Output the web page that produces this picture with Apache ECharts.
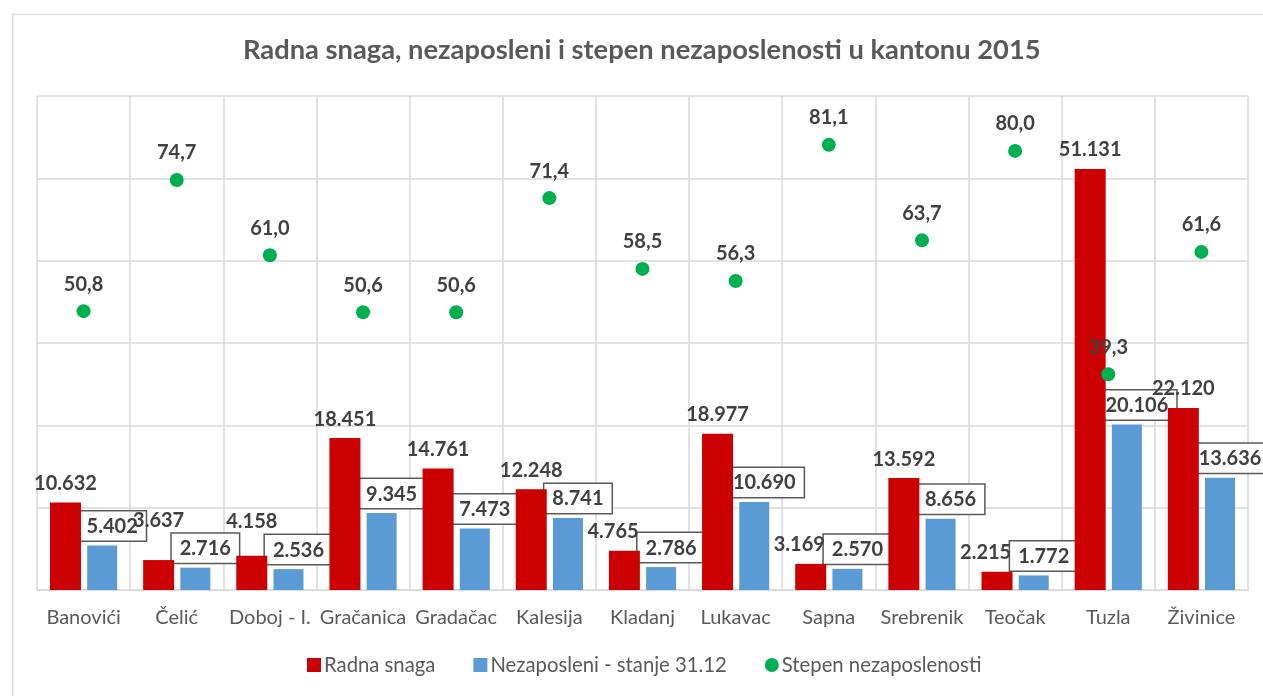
<!DOCTYPE html>
<html>
<head>
<meta charset="utf-8">
<script src="https://cdn.jsdelivr.net/npm/echarts@6/dist/echarts.min.js"></script>
<style>
html,body{margin:0;padding:0;background:#fff;}
#chart{width:1263px;height:696px;}
</style>
</head>
<body>
<div id="chart"></div>
<script>
const categories = ['Banovići','Čelić','Doboj - I.','Gračanica','Gradačac','Kalesija','Kladanj','Lukavac','Sapna','Srebrenik','Teočak','Tuzla','Živinice'];
const radnaSnaga = [10632, 3637, 4158, 18451, 14761, 12248, 4765, 18977, 3169, 13592, 2215, 51131, 22120];
const nezaposleni = [5402, 2716, 2536, 9345, 7473, 8741, 2786, 10690, 2570, 8656, 1772, 20106, 13636];
const stepen = [50.8, 74.7, 61.0, 50.6, 50.6, 71.4, 58.5, 56.3, 81.1, 63.7, 80.0, 39.3, 61.6];
const titleText = 'Radna snaga, nezaposleni i stepen nezaposlenosti u kantonu 2015';
const seriesNames = ['Radna snaga', 'Nezaposleni - stanje 31.12', 'Stepen nezaposlenosti'];

const FONT = 'Lato';
const LABEL_SIZE = 20;
const BOX_PAD = [5, 8, 4, 8];
const BOX_DIST = 5;
const BOX_DX = 10;
const RED_W = 31, BLUE_W = 30, BAR_GAP = 6;
const thousands = v => String(v).replace(/\B(?=(\d{3})+(?!\d))/g, '.');
const decimal = v => v.toFixed(1).replace('.', ',');

const measureCtx = document.createElement('canvas').getContext('2d');
function textWidth(t) {
  measureCtx.font = 'bold ' + LABEL_SIZE + 'px ' + FONT;
  return measureCtx.measureText(t).width;
}
function hits(a, b) {
  return a.x < b.x + b.width && a.x + a.width > b.x && a.y < b.y + b.height && a.y + a.height > b.y;
}

// Keep the red labels clear of the boxed blue labels (as in the original, where
// red labels were nudged left or up when they collided with the boxes).
const boxRects = [];
function redLabelLayout(params) {
  const i = params.dataIndex;
  const r = params.rect;          // red bar rect
  const lr = params.labelRect;    // red label rect
  if (!r || !lr || !radnaSnaga[i]) return {};
  const scale = r.height / radnaSnaga[i];
  const baseY = r.y + r.height;
  const blueTop = baseY - nezaposleni[i] * scale;
  const blueCenter = r.x + r.width + BAR_GAP + BLUE_W / 2;
  const bw = textWidth(thousands(nezaposleni[i])) + BOX_PAD[1] + BOX_PAD[3] + 1.5;
  const bh = LABEL_SIZE + BOX_PAD[0] + BOX_PAD[2] + 1.5;
  const box = {x: blueCenter + BOX_DX - bw / 2, y: blueTop - BOX_DIST - bh, width: bw, height: bh};
  boxRects[i] = box;
  const lw = textWidth(thousands(radnaSnaga[i]));
  const cx = r.x + r.width / 2;
  const cy = lr.y + lr.height / 2;
  const own = {x: cx - lw / 2, y: lr.y, width: lw, height: lr.height};
  if (!hits(own, box)) return {};
  const newCx = box.x + 2 - lw / 2;
  const moved = {x: newCx - lw / 2, y: lr.y, width: lw, height: lr.height};
  const prev = i > 0 ? boxRects[i - 1] : null;
  if (moved.x >= r.x - 24 && !(prev && hits(moved, prev))) {
    return {x: newCx, y: cy, align: 'center', verticalAlign: 'middle'};
  }
  const dy = (box.y - 2) - (lr.y + lr.height);
  return {x: cx, y: cy + dy, align: 'center', verticalAlign: 'middle'};
}

const chart = echarts.init(document.getElementById('chart'), null, {renderer: 'canvas'});
chart.setOption({
  animation: false,
  backgroundColor: '#ffffff',
  textStyle: {fontFamily: FONT},
  graphic: [{
    type: 'rect', left: 10, top: 12, z: -1,
    shape: {width: 1300, height: 720},
    style: {fill: 'none', stroke: '#d9d9d9', lineWidth: 1.5}
  }],
  title: {
    text: titleText, left: 238, top: 32,
    textStyle: {fontFamily: FONT, fontSize: 27.3, fontWeight: 'bold', color: '#595959'}
  },
  legend: {
    bottom: 16, left: 302, itemGap: 38, itemWidth: 14, itemHeight: 14,
    textStyle: {fontFamily: FONT, fontSize: 20.3, color: '#595959', padding: [0,0,0,-2]},
    data: [
      {name: seriesNames[0], icon: 'rect'},
      {name: seriesNames[1], icon: 'rect'},
      {name: seriesNames[2], icon: 'circle'}
    ]
  },
  grid: {left: 37, right: 15, top: 96, bottom: 106, containLabel: false},
  xAxis: {
    type: 'category', data: categories,
    axisLine: {lineStyle: {color: '#d9d9d9', width: 1.5}},
    axisTick: {show: false},
    splitLine: {show: true, interval: 0, lineStyle: {color: '#d9d9d9', width: 1.5}},
    axisLabel: {fontFamily: FONT, fontSize: 20, color: '#595959', margin: 18, interval: 0}
  },
  yAxis: [
    {type: 'value', min: 0, max: 60000, interval: 10000,
     axisLabel: {show: false}, axisLine: {show: false}, axisTick: {show: false},
     splitLine: {lineStyle: {color: '#d9d9d9', width: 1.5}}},
    {type: 'value', min: 0, max: 90, interval: 15,
     axisLabel: {show: false}, axisLine: {show: false}, axisTick: {show: false},
     splitLine: {show: false}}
  ],
  series: [
    {
      name: seriesNames[0], type: 'bar', data: radnaSnaga, yAxisIndex: 0, z: 4,
      barWidth: RED_W, barGap: '20%',
      itemStyle: {color: '#cc0000'},
      label: {show: true, position: 'top', distance: 9, formatter: p => thousands(p.value),
        fontFamily: FONT, fontSize: LABEL_SIZE, fontWeight: 'bold', color: '#404040'},
      labelLayout: redLabelLayout
    },
    {
      name: seriesNames[1], type: 'bar', data: nezaposleni, yAxisIndex: 0, z: 3,
      barWidth: BLUE_W,
      itemStyle: {color: '#5b9bd5'},
      label: {show: true, position: 'top', distance: BOX_DIST, offset: [BOX_DX, 0],
        formatter: p => thousands(p.value),
        fontFamily: FONT, fontSize: LABEL_SIZE, fontWeight: 'bold', color: '#404040',
        backgroundColor: '#ffffff', borderColor: '#595959', borderWidth: 1.5,
        padding: BOX_PAD}
    },
    {
      name: seriesNames[2], type: 'scatter', data: stepen, yAxisIndex: 1, z: 5,
      symbol: 'circle', symbolSize: 14,
      itemStyle: {color: '#00b050', opacity: 1},
      label: {show: true, position: 'top', distance: 10, formatter: p => decimal(p.value),
        fontFamily: FONT, fontSize: LABEL_SIZE, fontWeight: 'bold', color: '#404040'}
    }
  ]
});
</script>
</body>
</html>
